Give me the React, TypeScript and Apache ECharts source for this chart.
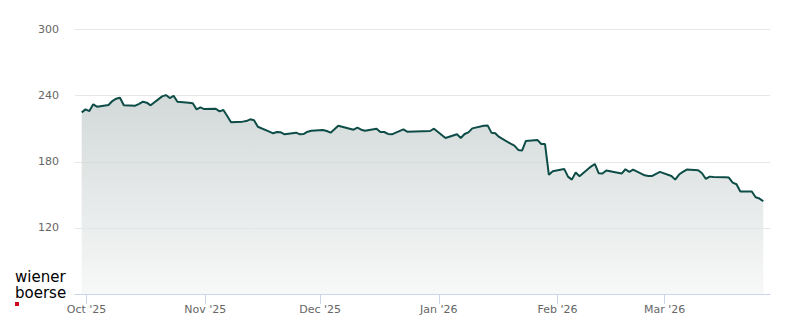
import React, { useEffect, useRef } from "react";
import * as echarts from "echarts";

// Trading days (Vienna) and closing prices
const dates: string[] = [
  "2025-09-29", "2025-09-30", "2025-10-01", "2025-10-02", "2025-10-03",
  "2025-10-06", "2025-10-07", "2025-10-08", "2025-10-09", "2025-10-10",
  "2025-10-13", "2025-10-14", "2025-10-15", "2025-10-16", "2025-10-17",
  "2025-10-20", "2025-10-21", "2025-10-22", "2025-10-23", "2025-10-24",
  "2025-10-27", "2025-10-28", "2025-10-29", "2025-10-30", "2025-10-31",
  "2025-11-03", "2025-11-04", "2025-11-05", "2025-11-06", "2025-11-07",
  "2025-11-10", "2025-11-11", "2025-11-12", "2025-11-13", "2025-11-14",
  "2025-11-17", "2025-11-18", "2025-11-19", "2025-11-20", "2025-11-21",
  "2025-11-24", "2025-11-25", "2025-11-26", "2025-11-27", "2025-11-28",
  "2025-12-01", "2025-12-02", "2025-12-03", "2025-12-04", "2025-12-05",
  "2025-12-08", "2025-12-09", "2025-12-10", "2025-12-11", "2025-12-12",
  "2025-12-15", "2025-12-16", "2025-12-17", "2025-12-18", "2025-12-19",
  "2025-12-22", "2025-12-23", "2025-12-29", "2025-12-30",
  "2026-01-02", "2026-01-05", "2026-01-06", "2026-01-07", "2026-01-08", "2026-01-09",
  "2026-01-12", "2026-01-13", "2026-01-14", "2026-01-15", "2026-01-16",
  "2026-01-19", "2026-01-20", "2026-01-21", "2026-01-22", "2026-01-23",
  "2026-01-26", "2026-01-27", "2026-01-28", "2026-01-29", "2026-01-30",
  "2026-02-02", "2026-02-03", "2026-02-04", "2026-02-05", "2026-02-06",
  "2026-02-09", "2026-02-10", "2026-02-11", "2026-02-12", "2026-02-13",
  "2026-02-16", "2026-02-17", "2026-02-18", "2026-02-19", "2026-02-20",
  "2026-02-23", "2026-02-24", "2026-02-25", "2026-02-26", "2026-02-27",
  "2026-03-02", "2026-03-03", "2026-03-04", "2026-03-05", "2026-03-06",
  "2026-03-09", "2026-03-10", "2026-03-11", "2026-03-12", "2026-03-13",
  "2026-03-16", "2026-03-17", "2026-03-18", "2026-03-19", "2026-03-20",
  "2026-03-23", "2026-03-24", "2026-03-25", "2026-03-26",
];

const prices: number[] = [
  224.8, 227.5, 226.0, 232.1, 230.0,
  231.5, 235.1, 237.2, 238.1, 231.2,
  230.9, 232.6, 234.5, 233.6, 231.2,
  239.3, 240.5, 237.8, 239.9, 234.5,
  233.6, 233.0, 227.5, 229.3, 227.8,
  228.1, 225.7, 226.9, 221.5, 215.8,
  216.4, 216.9, 218.5, 217.6, 211.8,
  207.4, 205.8, 207.0, 206.7, 204.9,
  206.4, 204.9, 205.2, 207.3, 208.2,
  208.8, 207.9, 206.4, 209.4, 212.7,
  210.0, 209.1, 210.9, 209.1, 208.2,
  210.0, 207.0, 207.0, 205.2, 204.9,
  209.4, 207.3, 207.9, 210.0,
  201.6, 204.9, 201.6, 205.2, 206.7, 210.3,
  212.7, 213.0, 206.4, 205.8, 202.5,
  196.4, 194.6, 190.7, 190.1, 198.9,
  199.8, 196.1, 196.1, 168.1, 171.4,
  173.5, 166.5, 163.8, 170.2, 166.8,
  175.6, 178.0, 169.6, 169.3, 172.0,
  170.0, 169.3, 173.2, 170.8, 172.9,
  167.7, 167.1, 167.1, 169.0, 170.8,
  167.1, 163.8, 168.4, 170.8, 172.9,
  172.3, 169.6, 164.4, 166.5, 166.2,
  165.9, 165.6, 161.1, 159.6, 153.0,
  153.0, 147.8, 146.6, 144.2,
];

const monthTickDates: string[] = [
  "2025-10-01", "2025-11-01", "2025-12-01", "2026-01-01", "2026-02-01", "2026-03-01",
];
const monthTickLabels: string[] = ["Oct '25", "Nov '25", "Dec '25", "Jan '26", "Feb '26", "Mar '26"];

const yTicks: number[] = [60, 120, 180, 240, 300];

const logoLines: string[] = ["wiener", "boerse"];

const axisStart = "2025-09-28T00:00:00Z";
const axisEnd = "2026-03-28T12:00:00Z";

const toUTC = (d: string) => Date.parse(d + "T00:00:00Z");
const CLOSE_OFFSET = 18 * 3600 * 1000; // quotes stamped at market close

export default function App() {
  const ref = useRef<HTMLDivElement>(null);

  useEffect(() => {
    if (!ref.current) return;
    const chart = echarts.init(ref.current, undefined, { renderer: "svg" });
    const tickValues = monthTickDates.map(toUTC);
    const seriesData = dates.map((d, i) => [toUTC(d) + CLOSE_OFFSET, prices[i]]);

    chart.setOption({
      animation: false,
      backgroundColor: "#ffffff",
      grid: { left: 75, right: 30, top: 29.5, bottom: 30, containLabel: false },
      xAxis: {
        type: "value",
        min: Date.parse(axisStart),
        max: Date.parse(axisEnd),
        axisLine: { show: true, lineStyle: { color: "#ccd6eb", width: 1 } },
        axisTick: {
          show: true,
          length: 10,
          lineStyle: { color: "#ccd6eb", width: 1 },
          customValues: tickValues,
        },
        axisLabel: {
          customValues: tickValues,
          color: "#666666",
          fontSize: 11,
          fontFamily: "DejaVu Sans",
          margin: 10,
          formatter: (v: number) => {
            const idx = tickValues.indexOf(v);
            return idx >= 0 ? monthTickLabels[idx] : "";
          },
        },
        splitLine: { show: false },
      },
      yAxis: {
        type: "value",
        min: yTicks[0],
        max: yTicks[yTicks.length - 1],
        interval: yTicks[1] - yTicks[0],
        axisLine: { show: false },
        axisTick: { show: false },
        axisLabel: {
          showMinLabel: false,
          color: "#666666",
          fontSize: 11,
          fontFamily: "DejaVu Sans",
          margin: 16,
        },
        splitLine: { show: true, lineStyle: { color: "#e6e6e6", width: 1 } },
      },
      series: [
        {
          type: "line",
          data: seriesData,
          showSymbol: false,
          symbol: "none",
          lineStyle: { color: "#0e4d47", width: 2 },
          itemStyle: { color: "#0e4d47" },
          areaStyle: {
            origin: "start",
            color: new echarts.graphic.LinearGradient(0, 0, 0, 1, [
              { offset: 0, color: "#bfc9c8" },
              { offset: 1, color: "#f4f5f5" },
            ]),
          },
          z: 3,
        },
      ],
      graphic: [
        {
          type: "text",
          left: 15,
          top: 269,
          style: {
            text: logoLines[0],
            fill: "#000000",
            font: "15px 'DejaVu Sans'",
          },
        },
        {
          type: "text",
          left: 15,
          top: 285.5,
          style: {
            text: logoLines[1],
            fill: "#000000",
            font: "15px 'DejaVu Sans'",
          },
        },
        {
          type: "rect",
          shape: { x: 15, y: 302, width: 4, height: 4 },
          style: { fill: "#d0021b" },
        },
      ],
    });

    return () => chart.dispose();
  }, []);

  return (
    <div
      ref={ref}
      style={{ position: "fixed", left: 0, top: 0, width: 800, height: 324 }}
    />
  );
}
